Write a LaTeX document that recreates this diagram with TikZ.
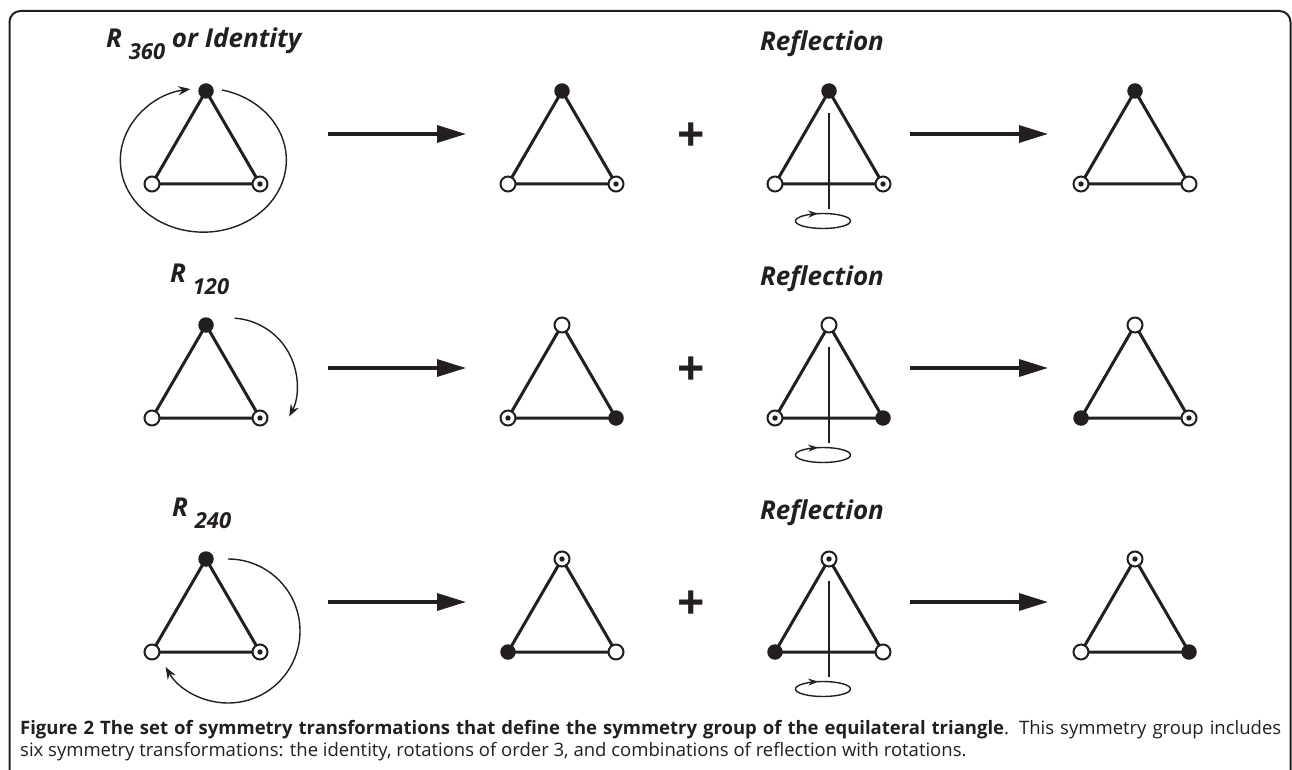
\documentclass[tikz,border=0pt]{standalone}
\usepackage{fontspec}
\setmainfont{Open Sans}
\usetikzlibrary{arrows.meta,decorations.markings}
\definecolor{ink}{RGB}{35,31,32}
\newcommand\drawtri[6]{%
  \coordinate (#1t) at (#2,#3);
  \coordinate (#1l) at ({#2-54},{#3+93});
  \coordinate (#1r) at ({#2+54},{#3+93});
  \draw[triedge] (#1t) -- (#1l) -- (#1r) -- cycle;
  \node[#4] (#1T) at (#1t) {};
  \node[#5] (#1L) at (#1l) {};
  \node[#6] (#1R) at (#1r) {};
}
\tikzset{
  vo/.style={circle, draw=ink, fill=white, line width=2pt, minimum size=15pt, inner sep=0pt},
  vf/.style={circle, fill=ink, minimum size=15.5pt, inner sep=0pt},
  vd/.style={vo, path picture={\fill[ink] (path picture bounding box.center) circle (2.7pt);}},
  triedge/.style={draw=ink, line width=3pt},
  bigarrow/.style={draw=ink, line width=3.3pt, -{Triangle[length=29pt,width=17pt]}},
  rotarrow/.style={draw=ink, line width=1.4pt, -{Stealth[length=12pt,width=9pt]}},
  axisline/.style={draw=ink, line width=2.4pt},
  spin/.style={draw=ink, line width=1.4pt, postaction={decorate},
    decoration={markings, mark=at position 0.71 with {\arrow{Stealth[length=10pt,width=7pt]}}}},
  title/.style={font=\fontsize{26}{26}\selectfont\bfseries\itshape, text=ink, inner sep=0pt},
  plussign/.style={font=\fontsize{48}{48}\selectfont\bfseries, text=ink, inner sep=0pt},
  caption/.style={font=\fontsize{18.5}{21.7}\selectfont, text=ink, inner sep=0pt, align=justify}
}
\begin{document}
\begin{tikzpicture}[x=1pt,y=-1pt]
\useasboundingbox (0,0) rectangle (1292,770);
\fill[white] (0,0) rectangle (1292,770);
% frame
\draw[ink, line width=2pt, rounded corners=11pt] (9.5,800) -- (9.5,11) -- (1290.5,11) -- (1290.5,800);

% titles
\node[title, anchor=base west] (t1) at (106,48) {R \raisebox{-12pt}{\fontsize{22}{22}\selectfont 360} or Identity};
\node[title, anchor=base west] (t2) at (170,282) {R \raisebox{-12pt}{\fontsize{22}{22}\selectfont 120}};
\node[title, anchor=base west] (t3) at (172,516) {R \raisebox{-12pt}{\fontsize{22}{22}\selectfont 240}};
\node[title, anchor=base] (f1) at (822,51) {Reflection};
\node[title, anchor=base] (f2) at (822,285) {Reflection};
\node[title, anchor=base] (f3) at (822,519) {Reflection};

% rotation arrows (drawn first)
\draw[rotarrow] (222,90) arc[start angle=-77, end angle=261, x radius=83, y radius=72];
\draw[rotarrow] ({230+67*cos(86)},{385-67*sin(86)}) arc[start angle=-86, end angle=28, radius=67];
\draw[rotarrow] (228,559) arc[start angle=-90, end angle=150, radius=72];

% rows of triangles
\drawtri{a1}{206}{91}{vf}{vo}{vd}
\drawtri{b1}{562}{91}{vf}{vo}{vd}
\drawtri{d1}{1135}{91}{vf}{vd}{vo}
\drawtri{a2}{206}{325}{vf}{vo}{vd}
\drawtri{b2}{562}{325}{vo}{vd}{vf}
\drawtri{d2}{1135}{325}{vo}{vf}{vd}
\drawtri{a3}{206}{559}{vf}{vo}{vd}
\drawtri{b3}{562}{559}{vd}{vf}{vo}
\drawtri{d3}{1135}{559}{vd}{vo}{vf}

% reflection triangles with axis
\foreach \r/\tt/\ll/\rr in {0/vf/vo/vd, 1/vo/vd/vf, 2/vd/vf/vo}{
  \pgfmathsetmacro{\dy}{234*\r}
  \coordinate (ct\r) at (829,{91+\dy});
  \coordinate (cl\r) at (775,{184+\dy});
  \coordinate (cr\r) at (883,{184+\dy});
  \draw[triedge] (ct\r) -- (cl\r) -- (cr\r) -- cycle;
  \coordinate (axa\r) at (829,{113+\dy});
  \coordinate (axb\r) at (829,{209+\dy});
  \draw[axisline] (axa\r) -- (axb\r);
  \node[\tt] (cT\r) at (ct\r) {};
  \node[\ll] (cL\r) at (cl\r) {};
  \node[\rr] (cR\r) at (cr\r) {};
  \coordinate (sp\r) at (823,{221+\dy});
  \draw[spin] (sp\r) ellipse [x radius=27.5, y radius=7.5];
  % arrows and plus
  \coordinate (pa\r) at (328,{134+\dy});
  \coordinate (pb\r) at (466,{134+\dy});
  \draw[bigarrow] (pa\r) -- (pb\r);
  \coordinate (qa\r) at (910,{134+\dy});
  \coordinate (qb\r) at (1048,{134+\dy});
  \draw[bigarrow] (qa\r) -- (qb\r);
  \node[plussign] (plus\r) at (691,{137+\dy}) {+};
}

% caption
\node[caption, anchor=north west, text width=1261pt] (cap) at (20,720)
 {\textbf{Figure 2 The set of symmetry transformations that define the symmetry group of the equilateral triangle}. This symmetry group includes\linebreak six symmetry transformations: the identity, rotations of order 3, and combinations of reflection with rotations.};
\end{tikzpicture}
\end{document}
